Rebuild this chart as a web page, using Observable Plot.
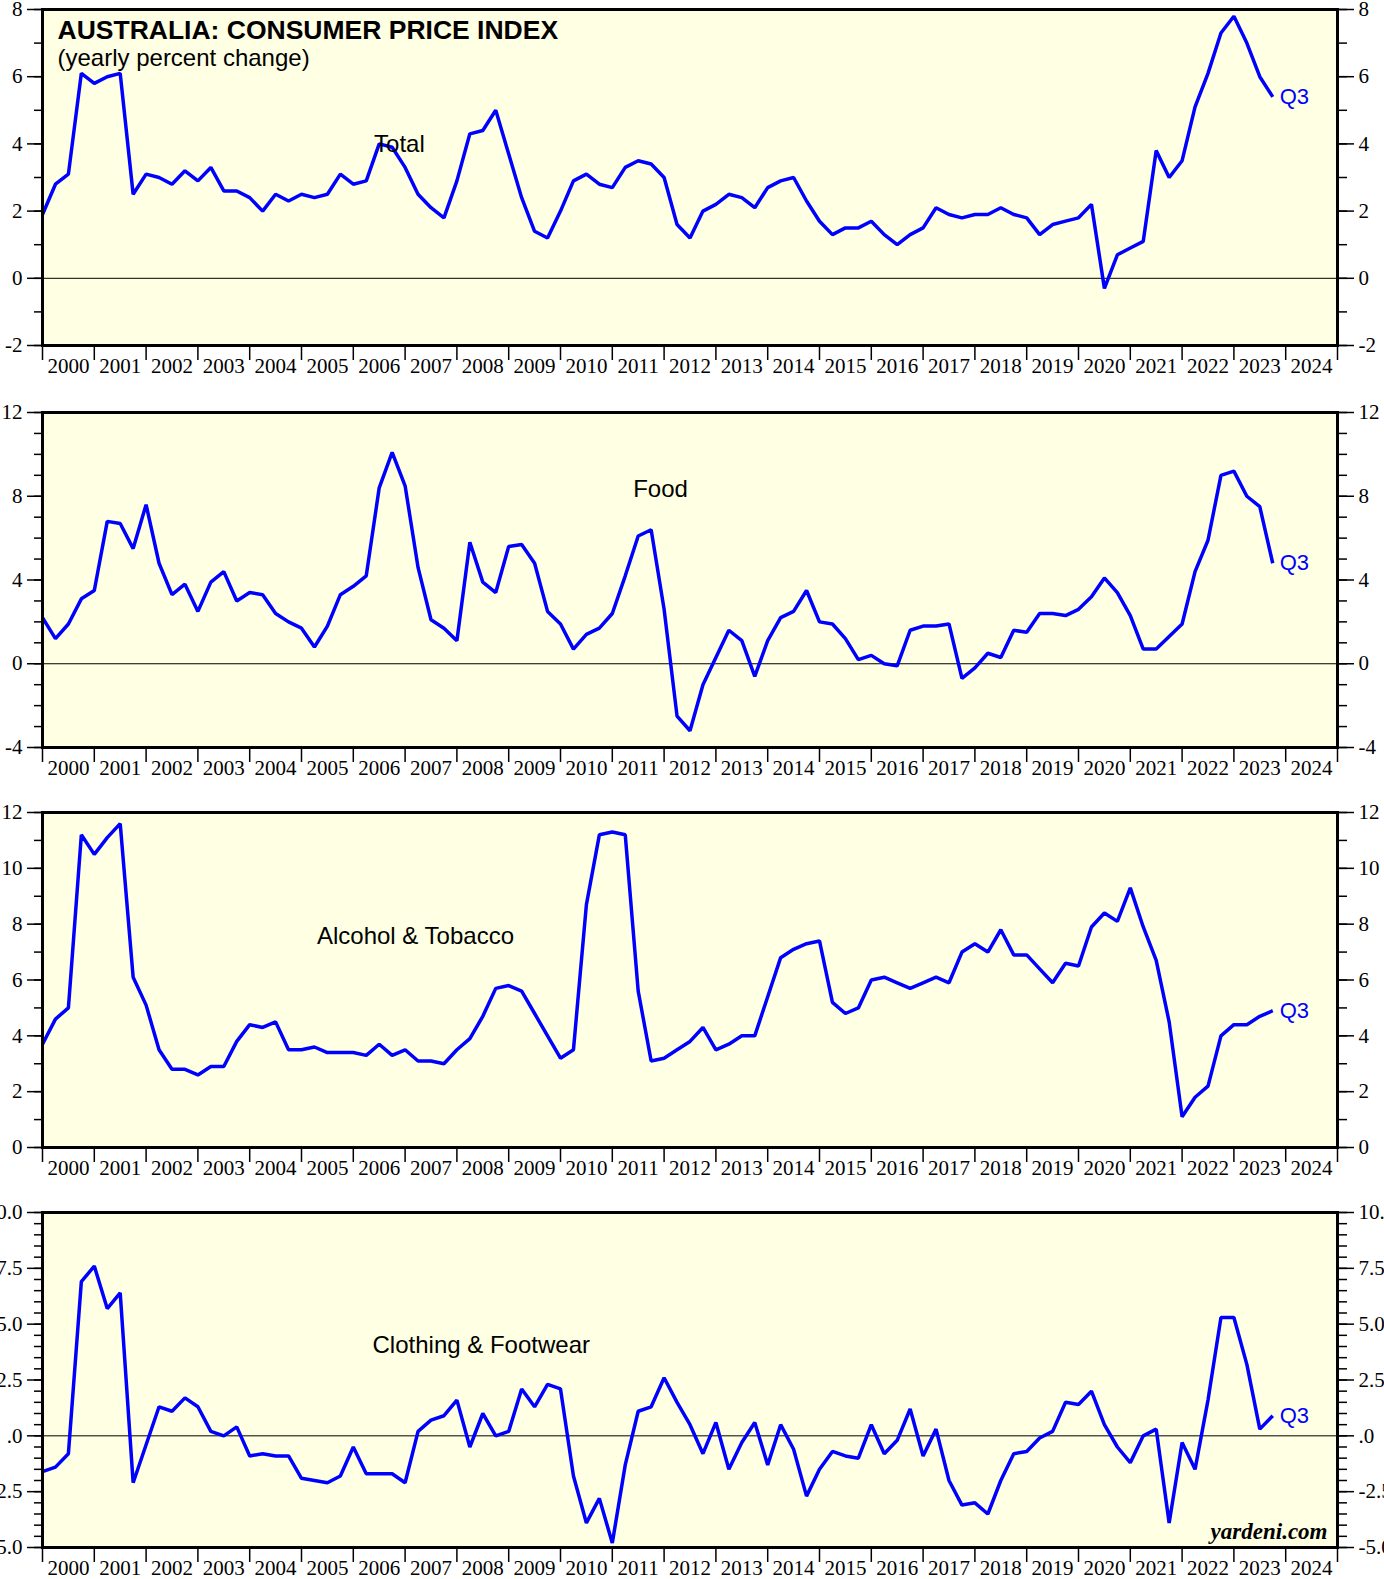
<!DOCTYPE html>
<html><head><meta charset="utf-8">
<script src="https://cdn.jsdelivr.net/npm/d3@7"></script>
<script src="https://cdn.jsdelivr.net/npm/@observablehq/plot@0.6"></script>
<style>
body{margin:0;background:#fff;}
#chart{position:relative;width:1384px;height:1579px;overflow:hidden;background:#fff;}
#chart svg{position:absolute;left:0;overflow:visible;}
</style></head><body><div id="chart"></div>
<script>
// First observation is 1999 Q4; series end at 2023 Q3 (quarterly, plotted at quarter end)
const firstQuarter = {year: 1999, quarter: 4};
const lastLabel = "Q3";
const yearLabels = [2000,2001,2002,2003,2004,2005,2006,2007,2008,2009,2010,2011,2012,2013,2014,2015,2016,2017,2018,2019,2020,2021,2022,2023,2024];

const total = [1.9,2.8,3.1,6.1,5.8,6.0,6.1,2.5,3.1,3.0,
  2.8,3.2,2.9,3.3,2.6,2.6,2.4,2.0,2.5,2.3,
  2.5,2.4,2.5,3.1,2.8,2.9,4.0,3.9,3.3,2.5,
  2.1,1.8,2.9,4.3,4.4,5.0,3.7,2.4,1.4,1.2,
  2.0,2.9,3.1,2.8,2.7,3.3,3.5,3.4,3.0,1.6,
  1.2,2.0,2.2,2.5,2.4,2.1,2.7,2.9,3.0,2.3,
  1.7,1.3,1.5,1.5,1.7,1.3,1.0,1.3,1.5,2.1,
  1.9,1.8,1.9,1.9,2.1,1.9,1.8,1.3,1.6,1.7,
  1.8,2.2,-0.3,0.7,0.9,1.1,3.8,3.0,3.5,5.1,
  6.1,7.3,7.8,7.0,6.0,5.4];

const food = [2.2,1.2,1.9,3.1,3.5,6.8,6.7,5.5,7.6,4.8,
  3.3,3.8,2.5,3.9,4.4,3.0,3.4,3.3,2.4,2.0,
  1.7,0.8,1.8,3.3,3.7,4.2,8.4,10.1,8.5,4.6,
  2.1,1.7,1.1,5.8,3.9,3.4,5.6,5.7,4.8,2.5,
  1.9,0.7,1.4,1.7,2.4,4.2,6.1,6.4,2.6,-2.5,
  -3.2,-1.0,0.3,1.6,1.1,-0.6,1.1,2.2,2.5,3.5,
  2.0,1.9,1.2,0.2,0.4,0.0,-0.1,1.6,1.8,1.8,
  1.9,-0.7,-0.2,0.5,0.3,1.6,1.5,2.4,2.4,2.3,
  2.6,3.2,4.1,3.4,2.3,0.7,0.7,1.3,1.9,4.4,
  5.9,9.0,9.2,8.0,7.5,4.8];

const alcoholTobacco = [3.7,4.6,5.0,11.2,10.5,11.1,11.6,6.1,5.1,3.5,
  2.8,2.8,2.6,2.9,2.9,3.8,4.4,4.3,4.5,3.5,
  3.5,3.6,3.4,3.4,3.4,3.3,3.7,3.3,3.5,3.1,
  3.1,3.0,3.5,3.9,4.7,5.7,5.8,5.6,4.8,4.0,
  3.2,3.5,8.7,11.2,11.3,11.2,5.6,3.1,3.2,3.5,
  3.8,4.3,3.5,3.7,4.0,4.0,5.4,6.8,7.1,7.3,
  7.4,5.2,4.8,5.0,6.0,6.1,5.9,5.7,5.9,6.1,
  5.9,7.0,7.3,7.0,7.8,6.9,6.9,6.4,5.9,6.6,
  6.5,7.9,8.4,8.1,9.3,7.9,6.7,4.5,1.1,1.8,
  2.2,4.0,4.4,4.4,4.7,4.9];

const clothingFootwear = [-1.6,-1.4,-0.8,6.9,7.6,5.7,6.4,-2.1,-0.4,1.3,
  1.1,1.7,1.3,0.2,0.0,0.4,-0.9,-0.8,-0.9,-0.9,
  -1.9,-2.0,-2.1,-1.8,-0.5,-1.7,-1.7,-1.7,-2.1,0.2,
  0.7,0.9,1.6,-0.5,1.0,0.0,0.2,2.1,1.3,2.3,
  2.1,-1.8,-3.9,-2.8,-4.8,-1.3,1.1,1.3,2.6,1.5,
  0.5,-0.8,0.6,-1.5,-0.3,0.6,-1.3,0.5,-0.6,-2.7,
  -1.5,-0.7,-0.9,-1.0,0.5,-0.8,-0.2,1.2,-0.9,0.3,
  -2.0,-3.1,-3.0,-3.5,-2.0,-0.8,-0.7,-0.1,0.2,1.5,
  1.4,2.0,0.5,-0.5,-1.2,0.0,0.3,-3.9,-0.3,-1.5,
  1.6,5.3,5.3,3.2,0.3,0.9];

const panelNames = ["Total", "Food", "Alcohol & Tobacco", "Clothing & Footwear"];
const yTicks1 = [-2,0,2,4,6,8];
const yTicks2 = [-4,0,4,8,12];
const yTicks3 = [0,2,4,6,8,10,12];
const yTicks4 = [-5,-2.5,0,2.5,5,7.5,10];

const BG = "#ffffe3";
const BLUE = "#0000ff";
const SANS = "Liberation Sans, Arial, sans-serif";
const SERIF = "Liberation Serif, Times New Roman, serif";

function toRows(values) {
  const t0 = firstQuarter.year + firstQuarter.quarter / 4;
  return values.map((v, i) => ({t: t0 + i / 4, v}));
}

const panels = [
  {values: total, domain: [-2, 8], major: yTicks1, minor: d3.range(-2, 8.01, 1),
   fmt: d => String(d), name: panelNames[0], lx: 2006.89, ly: 4.0, top: 9, h: 336, title: true},
  {values: food, domain: [-4, 12], major: yTicks2, minor: d3.range(-4, 12.01, 1),
   fmt: d => String(d), name: panelNames[1], lx: 2011.93, ly: 8.32, top: 412, h: 335},
  {values: alcoholTobacco, domain: [0, 12], major: yTicks3, minor: d3.range(0, 12.01, 1),
   fmt: d => String(d), name: panelNames[2], lx: 2007.2, ly: 7.56, top: 812, h: 335},
  {values: clothingFootwear, domain: [-5, 10], major: yTicks4, minor: d3.range(-5, 10.01, 0.5),
   fmt: d => d === 0 ? ".0" : d.toFixed(1), name: panelNames[3], lx: 2008.47, ly: 4.04, top: 1212, h: 335, credit: true}
];

const chart = document.getElementById("chart");
const MT = 9, MB = 32, ML = 42, MR = 47;

for (const p of panels) {
  const rows = toRows(p.values);
  const last = rows[rows.length - 1];
  const marks = [
    Plot.frame({fill: BG}),
    Plot.ruleY([0], {stroke: "black", strokeWidth: 1}),
    Plot.line(rows, {x: "t", y: "v", stroke: BLUE, strokeWidth: 3.5, strokeLinejoin: "miter", strokeLinecap: "butt"}),
    Plot.text([last], {x: "t", y: "v", text: () => lastLabel, dx: 7, textAnchor: "start", fill: BLUE, fontSize: 22, fontFamily: SANS}),
    Plot.text([p.name], {x: () => p.lx, y: () => p.ly, text: d => d, fontSize: 24, fontFamily: SANS, fill: "black"}),
    Plot.frame({stroke: "black", strokeWidth: 3}),
    // left axis
    Plot.axisY({anchor: "left", label: null, ticks: p.minor, tickSize: 8, tickFormat: () => "", strokeWidth: 1.5}),
    Plot.axisY({anchor: "left", label: null, ticks: p.major, tickSize: 15, tickPadding: 5, tickFormat: p.fmt, fontSize: 21, fontFamily: SERIF, strokeWidth: 1.5}),
    // right axis
    Plot.axisY({anchor: "right", label: null, ticks: p.minor, tickSize: 9, tickFormat: () => "", strokeWidth: 1.5}),
    Plot.axisY({anchor: "right", label: null, ticks: p.major, tickSize: 16, tickPadding: 5, tickFormat: p.fmt, fontSize: 21, fontFamily: SERIF, strokeWidth: 1.5}),
    // bottom year axis
    Plot.axisX({anchor: "bottom", label: null, ticks: [...yearLabels, yearLabels[yearLabels.length - 1] + 1], tickSize: 15, tickFormat: () => "", strokeWidth: 1.5}),
    Plot.axisX({anchor: "bottom", label: null, ticks: yearLabels.map(y => y + 0.5), tickSize: 0, tickPadding: 13, tickFormat: d => String(Math.floor(d)), fontSize: 21, fontFamily: SERIF})
  ];
  if (p.title) {
    marks.push(Plot.text(["AUSTRALIA: CONSUMER PRICE INDEX"], {frameAnchor: "top-left", dx: 15, dy: 11, textAnchor: "start", lineAnchor: "top", fontSize: 26.5, fontWeight: "bold", fontFamily: SANS, fill: "black"}));
    marks.push(Plot.text(["(yearly percent change)"], {frameAnchor: "top-left", dx: 15, dy: 39, textAnchor: "start", lineAnchor: "top", fontSize: 24, fontFamily: SANS, fill: "black"}));
  }
  if (p.credit) {
    marks.push(Plot.text(["yardeni.com"], {frameAnchor: "bottom-right", dx: -10, dy: -9, textAnchor: "end", lineAnchor: "bottom", fontSize: 23, fontWeight: "bold", fontStyle: "italic", fontFamily: SERIF, fill: "black"}));
  }
  const svg = Plot.plot({
    width: 1384,
    height: MT + p.h + MB,
    marginTop: MT, marginBottom: MB, marginLeft: ML, marginRight: MR,
    style: {background: "transparent", fontFamily: SERIF, fontSize: "21px", color: "black", overflow: "visible"},
    x: {type: "linear", domain: [2000, 2025], label: null},
    y: {domain: p.domain, nice: false, label: null},
    marks
  });
  svg.style.top = (p.top - MT) + "px";
  chart.appendChild(svg);
}
</script></body></html>
